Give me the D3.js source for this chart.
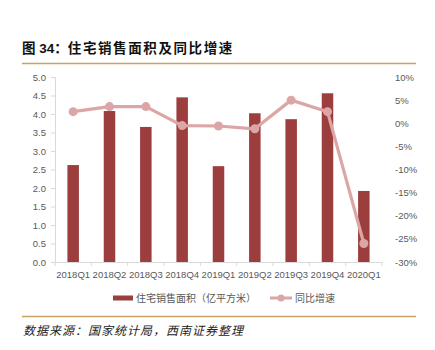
<!DOCTYPE html>
<html><head><meta charset="utf-8">
<script src="https://cdn.jsdelivr.net/npm/d3@7"></script>
<style>body{margin:0;background:#fff;}svg{display:block;}</style>
</head><body>
<svg id="c" width="435" height="350"></svg>
<script>
const categories = ["2018Q1","2018Q2","2018Q3","2018Q4","2019Q1","2019Q2","2019Q3","2019Q4","2020Q1"];
const areaValues = [2.62, 4.08, 3.65, 4.45, 2.59, 4.02, 3.86, 4.56, 1.92];
const growthValues = [2.5, 3.6, 3.6, -0.5, -0.6, -1.2, 5.0, 2.5, -26.0];
const leftTicks = [0,0.5,1,1.5,2,2.5,3,3.5,4,4.5,5];
const rightTicks = [-30,-25,-20,-15,-10,-5,0,5,10];
const titlePrefix = "图 34：";
const titleMain = "住宅销售面积及同比增速";
const source = "数据来源：国家统计局，西南证券整理";
const legendLabels = ["住宅销售面积（亿平方米）","同比增速"];

(function(){
const svg = d3.select("#c");
const font = "'Liberation Sans','Noto Sans CJK SC',sans-serif";
const pL = 55, pR = 382, pT = 77, pB = 262;
const barColor = "#9C3E3E", lineColor = "#DDA6A6", gold = "#C9A262", txt = "#595959";

// Title
const t = svg.append("text").attr("x",22).attr("y",53).attr("font-family",font)
  .attr("font-size",13.5).attr("fill","#111");
t.append("tspan").attr("font-weight","bold").text(titlePrefix);
t.append("tspan").attr("letter-spacing","1.6").attr("font-weight","bold").text(titleMain);
svg.append("line").attr("x1",22).attr("x2",416).attr("y1",63.5).attr("y2",63.5).attr("stroke",gold).attr("stroke-width",1.5);

const x = d3.scaleBand().domain(categories).range([pL,pR]);
const yL = d3.scaleLinear().domain([0,5]).range([pB,pT]);
const yR = d3.scaleLinear().domain([-30,10]).range([pB,pT]);

// Left axis
const gL = svg.append("g").attr("transform",`translate(${pL},0)`)
  .call(d3.axisLeft(yL).tickValues(leftTicks).tickFormat(d3.format(".1f")).tickSize(4));
gL.select(".domain").attr("stroke","#D9D9D9");
gL.selectAll(".tick line").attr("stroke","#D9D9D9");
gL.selectAll("text").attr("fill",txt).attr("font-family",font).attr("font-size",9.5).attr("dx","-2");

// Right axis
const gR = svg.append("g").attr("transform",`translate(${pR+10},0)`)
  .call(d3.axisRight(yR).tickValues(rightTicks).tickFormat(d=>d+"%").tickSize(0));
gR.select(".domain").remove();
gR.selectAll("text").attr("fill",txt).attr("font-family",font).attr("font-size",9.5);

// Bottom axis
const gB = svg.append("g").attr("transform",`translate(0,${pB})`)
  .call(d3.axisBottom(x).tickSize(0).tickPadding(9));
gB.select(".domain").attr("stroke","#D9D9D9");
gB.selectAll("text").attr("fill",txt).attr("font-family",font).attr("font-size",9.5);
svg.append("g").selectAll("line").data(d3.range(categories.length+1)).join("line")
  .attr("x1",i=>pL + i*x.step()).attr("x2",i=>pL + i*x.step())
  .attr("y1",pB).attr("y2",pB+4).attr("stroke","#D9D9D9");

// Bars
const bw = 11.5;
svg.append("g").selectAll("rect").data(areaValues).join("rect")
  .attr("x",(d,i)=>x(categories[i])+x.bandwidth()/2-bw/2)
  .attr("y",d=>yL(d)).attr("width",bw).attr("height",d=>pB-yL(d)).attr("fill",barColor);

// Line
const line = d3.line().x((d,i)=>x(categories[i])+x.bandwidth()/2).y(d=>yR(d));
svg.append("path").datum(growthValues).attr("d",line).attr("fill","none")
  .attr("stroke",lineColor).attr("stroke-width",3.2).attr("stroke-linejoin","round");
svg.append("g").selectAll("circle").data(growthValues).join("circle")
  .attr("cx",(d,i)=>x(categories[i])+x.bandwidth()/2).attr("cy",d=>yR(d)).attr("r",4.5).attr("fill",lineColor);

// Legend
const ly = 298;
svg.append("rect").attr("x",113).attr("y",ly-2.5).attr("width",20).attr("height",5).attr("fill",barColor);
svg.append("text").attr("x",136).attr("y",ly+4).attr("font-family",font).attr("font-size",10).attr("fill",txt).text(legendLabels[0]);
svg.append("line").attr("x1",270).attr("x2",292).attr("y1",ly).attr("y2",ly).attr("stroke",lineColor).attr("stroke-width",3);
svg.append("circle").attr("cx",281).attr("cy",ly).attr("r",3.5).attr("fill",lineColor);
svg.append("text").attr("x",295).attr("y",ly+4).attr("font-family",font).attr("font-size",10).attr("fill",txt).text(legendLabels[1]);

// Footer
svg.append("line").attr("x1",22).attr("x2",416).attr("y1",316.5).attr("y2",316.5).attr("stroke",gold).attr("stroke-width",1.5);
svg.append("text").attr("x",23).attr("y",335).attr("font-family",font).attr("font-style","italic")
  .attr("font-size",12).attr("letter-spacing","1").attr("fill","#222").text(source);
})();
</script>
</body></html>
